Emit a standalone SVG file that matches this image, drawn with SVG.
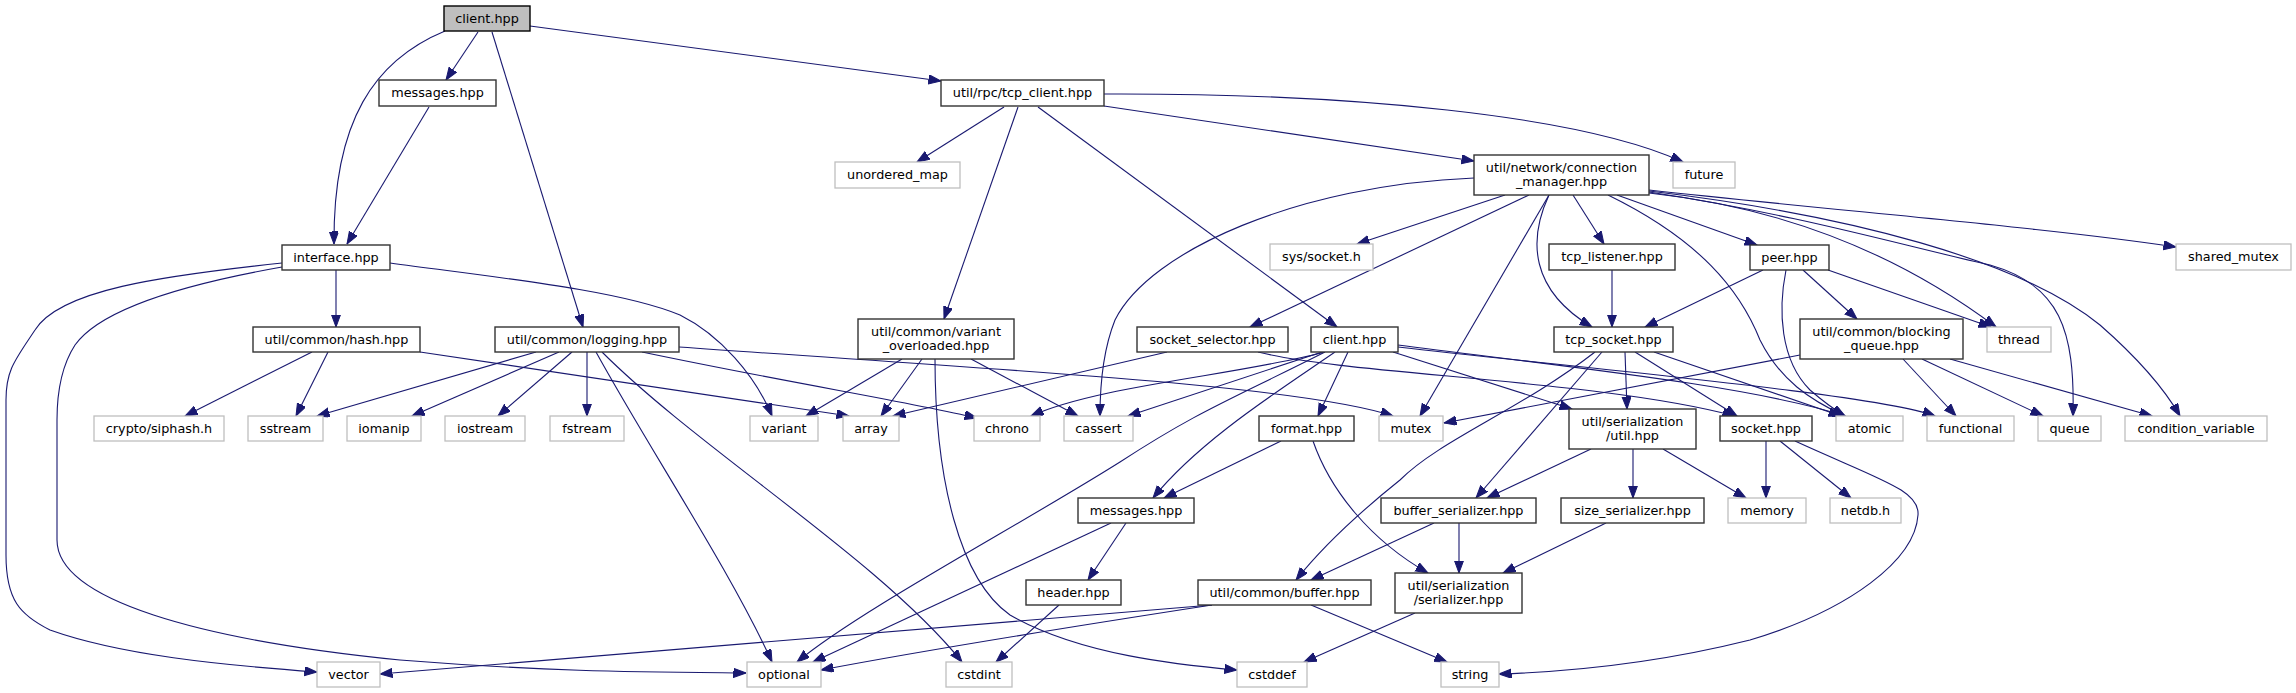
<svg xmlns="http://www.w3.org/2000/svg" width="2296" height="693" viewBox="0 0 2296 693">
<style>
.n rect{fill:#fff;stroke:#333;stroke-width:1.4}
.x rect{fill:#fff;stroke:#bfbfbf;stroke-width:1.3}
.r rect{fill:#bfbfbf;stroke:#000;stroke-width:1.4}
text{font-family:"DejaVu Sans","Liberation Sans",sans-serif;font-size:12.8px;text-anchor:middle;fill:#000}
#edges path{fill:none;stroke:#191970;stroke-width:1.1;marker-end:url(#ah)}
</style>
<defs>
<marker id="ah" markerWidth="13" markerHeight="10" refX="12.5" refY="4.6" orient="auto" markerUnits="userSpaceOnUse">
<path d="M0,0 L12.5,4.6 L0,9.2 z" fill="#191970" stroke="#191970" stroke-width="1"/>
</marker>
</defs>
<rect width="2296" height="693" fill="#fff"/>
<g id="edges">
<path d="M478,32 L446,80"/>
<path d="M445,31 C375,60 333,120 334,244"/>
<path d="M429,107 L347,244"/>
<path d="M492,32 L583,327"/>
<path d="M530,26 L941,81"/>
<path d="M1004,107 L917,162"/>
<path d="M1018,107 L944,319"/>
<path d="M1038,107 L1337,327"/>
<path d="M1104,106 L1474,161"/>
<path d="M1104,94 C1350,93 1580,115 1683,162"/>
<path d="M336,270 L336,327"/>
<path d="M282,263 C160,276 60,290 35,330 C15,360 6,370 6,400 L6,555 C6,600 20,615 50,630 C120,655 220,665 317,672"/>
<path d="M282,267 C180,285 100,310 75,345 C62,365 57,390 57,420 L57,540 C57,600 200,640 400,660 C550,672 650,672 746,673"/>
<path d="M390,263 C500,278 620,290 680,315 C720,335 755,375 772,416"/>
<path d="M312,352 L185,416"/>
<path d="M328,352 L296,416"/>
<path d="M420,352 C600,380 780,405 849,416"/>
<path d="M536,352 L317,416"/>
<path d="M559,352 L412,416"/>
<path d="M572,352 L498,416"/>
<path d="M587,352 L587,416"/>
<path d="M596,352 C650,450 730,570 772,662"/>
<path d="M602,352 C700,450 880,560 962,662"/>
<path d="M642,352 C800,385 900,400 977,418"/>
<path d="M679,347 C1000,370 1300,385 1393,416"/>
<path d="M902,359 L806,416"/>
<path d="M922,359 L881,416"/>
<path d="M971,359 L1078,416"/>
<path d="M935,359 C935,480 960,580 1010,615 C1080,655 1180,665 1237,670"/>
<path d="M1505,195 L1357,244"/>
<path d="M1529,195 L1250,327"/>
<path d="M1474,178 C1300,185 1150,250 1115,320 C1103,350 1100,385 1100,416"/>
<path d="M1549,195 L1420,416"/>
<path d="M1549,195 C1528,240 1530,290 1592,327"/>
<path d="M1573,195 L1604,244"/>
<path d="M1608,195 C1700,240 1740,290 1760,340 C1780,380 1810,400 1845,416"/>
<path d="M1617,195 L1757,245"/>
<path d="M1649,193 C1760,205 1880,240 1996,327"/>
<path d="M1649,192 C1800,215 1900,245 1990,265 C2060,285 2075,330 2073,416"/>
<path d="M1649,191 C1850,215 2020,260 2100,325 C2140,360 2165,390 2180,416"/>
<path d="M1649,190 C1850,212 2050,228 2176,247"/>
<path d="M1612,270 L1612,327"/>
<path d="M1763,270 L1645,327"/>
<path d="M1803,270 L1857,319"/>
<path d="M1828,270 L1991,327"/>
<path d="M1786,270 C1778,310 1780,360 1810,390 C1825,403 1835,410 1845,416"/>
<path d="M1800,355 L1444,423"/>
<path d="M1903,359 L1956,416"/>
<path d="M1922,359 L2043,416"/>
<path d="M1950,359 L2152,416"/>
<path d="M1625,352 L1627,409"/>
<path d="M1602,352 L1476,498"/>
<path d="M1595,352 C1520,410 1440,440 1400,480 C1350,520 1320,550 1296,580"/>
<path d="M1635,352 L1737,416"/>
<path d="M1654,352 L1841,416"/>
<path d="M1325,352 C1240,375 1100,385 1031,416"/>
<path d="M1322,352 L1128,416"/>
<path d="M1325,352 C1230,400 1200,410 1120,462 C1020,525 860,610 797,662"/>
<path d="M1335,352 C1280,390 1200,440 1153,498"/>
<path d="M1348,352 L1318,416"/>
<path d="M1393,352 L1572,409"/>
<path d="M1398,345 C1550,365 1750,385 1845,416"/>
<path d="M1398,347 C1600,370 1880,395 1935,416"/>
<path d="M1167,352 L893,416"/>
<path d="M1258,352 C1350,375 1600,380 1735,416"/>
<path d="M1126,523 L1088,580"/>
<path d="M1111,523 L813,662"/>
<path d="M1281,441 L1164,498"/>
<path d="M1313,441 C1330,490 1370,540 1428,573"/>
<path d="M1059,605 L996,662"/>
<path d="M1591,449 L1487,498"/>
<path d="M1633,449 L1633,498"/>
<path d="M1663,449 L1746,498"/>
<path d="M1434,523 L1311,580"/>
<path d="M1459,523 L1459,573"/>
<path d="M1606,523 L1503,573"/>
<path d="M1212,605 C900,630 600,655 380,674"/>
<path d="M1212,605 C1050,630 900,655 821,670"/>
<path d="M1311,605 L1447,662"/>
<path d="M1415,613 L1304,662"/>
<path d="M1766,441 L1766,498"/>
<path d="M1780,441 L1851,498"/>
<path d="M1795,441 C1880,480 1920,490 1918,515 C1915,560 1850,610 1750,640 C1650,665 1560,672 1499,674"/>
</g>
<g id="client_top" class="r"><rect x="444" y="6" width="86" height="25"/><text x="487" y="23">client.hpp</text></g>
<g id="messages_top" class="n"><rect x="379" y="80" width="117" height="26"/><text x="437.5" y="97">messages.hpp</text></g>
<g id="interface" class="n"><rect x="282" y="245" width="108" height="25"/><text x="336" y="262">interface.hpp</text></g>
<g id="hash" class="n"><rect x="253" y="327" width="167" height="25"/><text x="336.5" y="344">util/common/hash.hpp</text></g>
<g id="logging" class="n"><rect x="495" y="327" width="184" height="25"/><text x="587" y="344">util/common/logging.hpp</text></g>
<g id="tcp_client" class="n"><rect x="941" y="80" width="163" height="26"/><text x="1022.5" y="97">util/rpc/tcp_client.hpp</text></g>
<g id="unordered_map" class="x"><rect x="835" y="162" width="125" height="26"/><text x="897.5" y="179">unordered_map</text></g>
<g id="variant_overloaded" class="n"><rect x="858" y="319" width="156" height="40"/><text x="936" y="335.5">util/common/variant</text><text x="936" y="350">_overloaded.hpp</text></g>
<g id="connection_manager" class="n"><rect x="1474" y="155" width="175" height="40"/><text x="1561.5" y="171.5">util/network/connection</text><text x="1561.5" y="186">_manager.hpp</text></g>
<g id="future" class="x"><rect x="1673" y="162" width="62" height="26"/><text x="1704" y="179">future</text></g>
<g id="sys_socket" class="x"><rect x="1270" y="244" width="103" height="26"/><text x="1321.5" y="261">sys/socket.h</text></g>
<g id="tcp_listener" class="n"><rect x="1549" y="244" width="126" height="26"/><text x="1612" y="261">tcp_listener.hpp</text></g>
<g id="peer" class="n"><rect x="1750" y="245" width="79" height="25"/><text x="1789.5" y="262">peer.hpp</text></g>
<g id="shared_mutex" class="x"><rect x="2176" y="244" width="115" height="26"/><text x="2233.5" y="261">shared_mutex</text></g>
<g id="socket_selector" class="n"><rect x="1137" y="327" width="151" height="25"/><text x="1212.5" y="344">socket_selector.hpp</text></g>
<g id="client2" class="n"><rect x="1311" y="327" width="87" height="25"/><text x="1354.5" y="344">client.hpp</text></g>
<g id="tcp_socket" class="n"><rect x="1554" y="327" width="119" height="25"/><text x="1613.5" y="344">tcp_socket.hpp</text></g>
<g id="blocking_queue" class="n"><rect x="1800" y="319" width="163" height="40"/><text x="1881.5" y="335.5">util/common/blocking</text><text x="1881.5" y="350">_queue.hpp</text></g>
<g id="thread" class="x"><rect x="1987" y="327" width="64" height="25"/><text x="2019" y="344">thread</text></g>
<g id="siphash" class="x"><rect x="94" y="416" width="130" height="25"/><text x="159" y="433">crypto/siphash.h</text></g>
<g id="sstream" class="x"><rect x="248" y="416" width="75" height="25"/><text x="285.5" y="433">sstream</text></g>
<g id="iomanip" class="x"><rect x="347" y="416" width="74" height="25"/><text x="384" y="433">iomanip</text></g>
<g id="iostream" class="x"><rect x="445" y="416" width="80" height="25"/><text x="485" y="433">iostream</text></g>
<g id="fstream" class="x"><rect x="550" y="416" width="74" height="25"/><text x="587" y="433">fstream</text></g>
<g id="variant" class="x"><rect x="750" y="416" width="68" height="25"/><text x="784" y="433">variant</text></g>
<g id="array" class="x"><rect x="843" y="416" width="56" height="25"/><text x="871" y="433">array</text></g>
<g id="chrono" class="x"><rect x="974" y="416" width="66" height="25"/><text x="1007" y="433">chrono</text></g>
<g id="cassert" class="x"><rect x="1064" y="416" width="69" height="25"/><text x="1098.5" y="433">cassert</text></g>
<g id="format" class="n"><rect x="1259" y="416" width="95" height="25"/><text x="1306.5" y="433">format.hpp</text></g>
<g id="mutex" class="x"><rect x="1379" y="416" width="64" height="25"/><text x="1411" y="433">mutex</text></g>
<g id="ser_util" class="n"><rect x="1569" y="409" width="127" height="40"/><text x="1632.5" y="425.5">util/serialization</text><text x="1632.5" y="440">/util.hpp</text></g>
<g id="socket_hpp" class="n"><rect x="1720" y="416" width="92" height="25"/><text x="1766" y="433">socket.hpp</text></g>
<g id="atomic" class="x"><rect x="1836" y="416" width="67" height="25"/><text x="1869.5" y="433">atomic</text></g>
<g id="functional" class="x"><rect x="1927" y="416" width="87" height="25"/><text x="1970.5" y="433">functional</text></g>
<g id="queue" class="x"><rect x="2038" y="416" width="63" height="25"/><text x="2069.5" y="433">queue</text></g>
<g id="condition_variable" class="x"><rect x="2125" y="416" width="142" height="25"/><text x="2196" y="433">condition_variable</text></g>
<g id="messages2" class="n"><rect x="1078" y="498" width="116" height="25"/><text x="1136" y="515">messages.hpp</text></g>
<g id="buffer_serializer" class="n"><rect x="1381" y="498" width="155" height="25"/><text x="1458.5" y="515">buffer_serializer.hpp</text></g>
<g id="size_serializer" class="n"><rect x="1561" y="498" width="143" height="25"/><text x="1632.5" y="515">size_serializer.hpp</text></g>
<g id="memory" class="x"><rect x="1728" y="498" width="78" height="25"/><text x="1767" y="515">memory</text></g>
<g id="netdb" class="x"><rect x="1830" y="498" width="71" height="25"/><text x="1865.5" y="515">netdb.h</text></g>
<g id="header" class="n"><rect x="1026" y="580" width="95" height="25"/><text x="1073.5" y="597">header.hpp</text></g>
<g id="buffer_hpp" class="n"><rect x="1198" y="580" width="173" height="25"/><text x="1284.5" y="597">util/common/buffer.hpp</text></g>
<g id="serializer" class="n"><rect x="1395" y="573" width="127" height="40"/><text x="1458.5" y="589.5">util/serialization</text><text x="1458.5" y="604">/serializer.hpp</text></g>
<g id="vector" class="x"><rect x="317" y="662" width="63" height="25"/><text x="348.5" y="679">vector</text></g>
<g id="optional" class="x"><rect x="747" y="662" width="74" height="25"/><text x="784" y="679">optional</text></g>
<g id="cstdint" class="x"><rect x="946" y="662" width="66" height="25"/><text x="979" y="679">cstdint</text></g>
<g id="cstddef" class="x"><rect x="1237" y="662" width="70" height="25"/><text x="1272" y="679">cstddef</text></g>
<g id="string" class="x"><rect x="1441" y="662" width="58" height="25"/><text x="1470" y="679">string</text></g>
</svg>
